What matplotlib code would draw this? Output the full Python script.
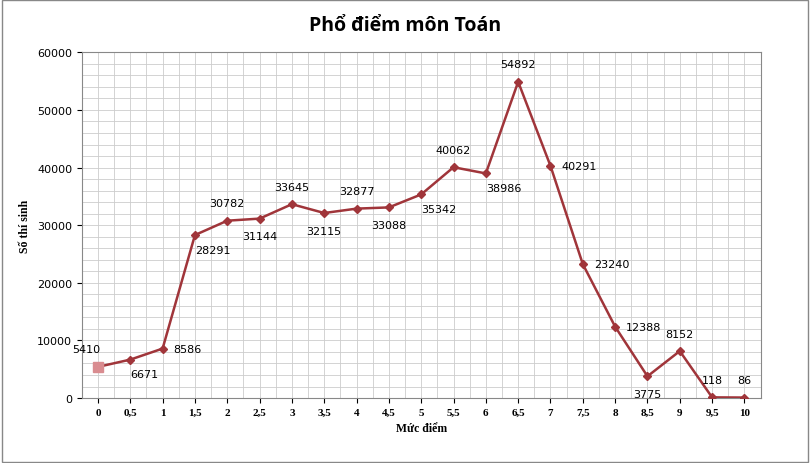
import matplotlib.pyplot as plt
from matplotlib.ticker import MultipleLocator

categories = ["0", "0,5", "1", "1,5", "2", "2,5", "3", "3,5", "4", "4,5", "5",
              "5,5", "6", "6,5", "7", "7,5", "8", "8,5", "9", "9,5", "10"]
counts = [5410, 6671, 8586, 28291, 30782, 31144, 33645, 32115, 32877, 33088, 35342,
          40062, 38986, 54892, 40291, 23240, 12388, 3775, 8152, 118, 86]
# label placement: a=above, b=below, r=right, br=below right
label_pos = ["al", "br", "r", "br", "a", "b", "a", "b", "a", "b", "br",
             "a", "br", "a", "r", "r", "r", "b", "a", "a", "a"]

col = "#a0353a"
fig = plt.figure(figsize=(8.1, 4.64), dpi=100)
ax = fig.add_axes([0.101, 0.14, 0.838, 0.745])
x = list(range(len(categories)))
ax.plot(x, counts, color=col, lw=1.8, marker="D", ms=4.5, zorder=3)
ax.plot(x[0], counts[0], marker="s", color="#d98c90", ms=7, zorder=4)

offsets = {"a": (0, 9, "center", "bottom"), "al": (2, 9, "right", "bottom"),
           "b": (0, -9, "center", "top"), "r": (8, 0, "left", "center"),
           "br": (0, -7, "left", "top")}
for xi, v, p in zip(x, counts, label_pos):
    dx, dy, ha, va = offsets[p]
    ax.annotate(str(v), (xi, v), xytext=(dx, dy), textcoords="offset points",
                ha=ha, va=va, fontsize=8)

ax.set_xlim(-0.5, len(categories) - 0.5)
ax.set_ylim(0, 60000)
ax.set_xticks(x)
ax.set_xticklabels(categories, fontfamily="Liberation Serif", fontweight="bold", fontsize=8)
ax.xaxis.set_minor_locator(MultipleLocator(0.5))
ax.yaxis.set_major_locator(MultipleLocator(10000))
ax.yaxis.set_minor_locator(MultipleLocator(2000))
ax.tick_params(axis="y", labelsize=8)
ax.tick_params(which="minor", length=0)
ax.grid(which="both", color="#cccccc", lw=0.6)
ax.set_axisbelow(True)
for s in ax.spines.values():
    s.set_color("#888888")

ax.set_xlabel("Mức điểm", fontfamily="Liberation Serif", fontweight="bold", fontsize=8.5)
ax.set_ylabel("Số thí sinh", fontfamily="Liberation Serif", fontweight="bold", fontsize=8.5)
fig.suptitle("Phổ điểm môn Toán", fontfamily="Open Sans", fontweight="bold", fontsize=14, y=0.965)
fig.patches.append(plt.Rectangle((0.002, 0.002), 0.996, 0.996, transform=fig.transFigure,
                                 fill=False, edgecolor="#888888", lw=1))
fig.savefig("out.png", dpi=100)
